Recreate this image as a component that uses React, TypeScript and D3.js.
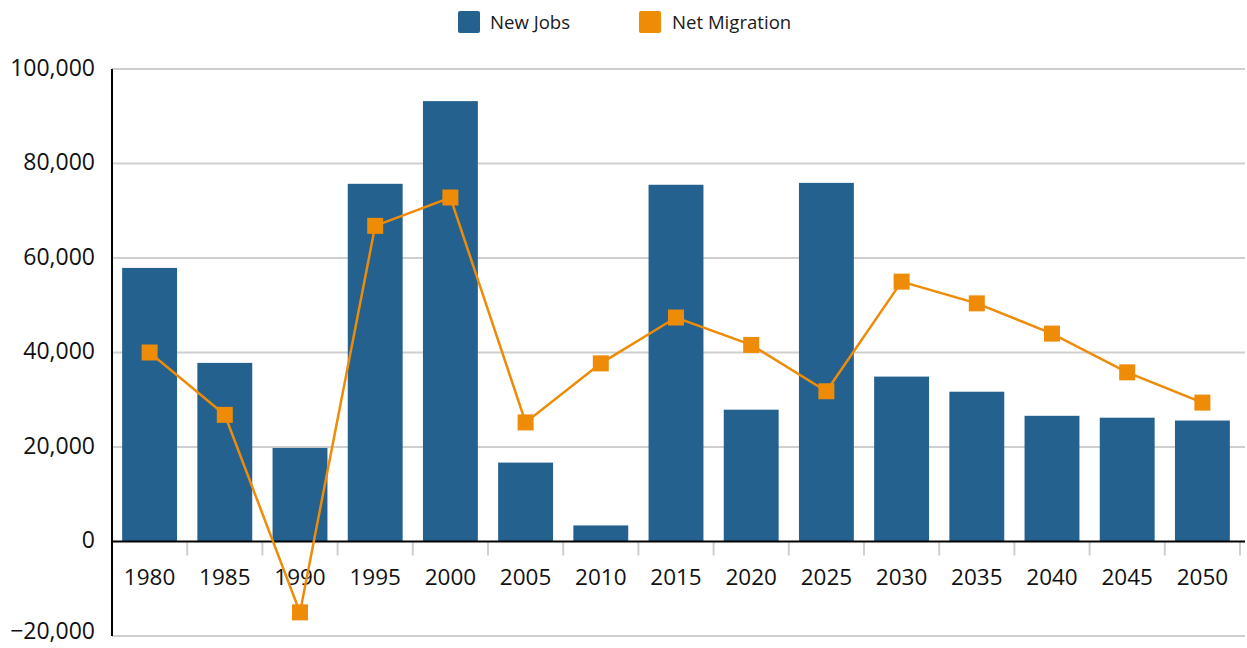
import React from 'react';
import * as d3 from 'd3';

const years = ['1980', '1985', '1990', '1995', '2000', '2005', '2010', '2015', '2020', '2025', '2030', '2035', '2040', '2045', '2050'];
const newJobs = [57900, 37800, 19800, 75700, 93200, 16700, 3400, 75500, 27900, 75900, 34900, 31700, 26600, 26200, 25600];
const netMigration = [40000, 26800, -15000, 66800, 72800, 25200, 37700, 47400, 41600, 31800, 55000, 50400, 44000, 35800, 29400];
const yTicks = [-20000, 0, 20000, 40000, 60000, 80000, 100000];

const BLUE = '#24618f';
const ORANGE = '#ee8b07';
const FONT = '"Open Sans", sans-serif';

const App: React.FC = () => {
  const width = 1247;
  const height = 648;
  const left = 112;
  const right = 1240;

  const x = d3
    .scaleBand<string>()
    .domain(years)
    .range([left, right])
    .paddingInner(0.27)
    .paddingOuter(0.135);

  const y = d3.scaleLinear().domain([-20000, 100000]).range([636, 69]);
  const fmt = d3.format(',');
  const step = x.step();
  const cx = (d: string) => (x(d) ?? 0) + x.bandwidth() / 2;

  const line = d3
    .line<number>()
    .x((_, i) => cx(years[i]))
    .y((d) => y(d));

  return (
    <svg
      width={width}
      height={height}
      style={{ position: 'absolute', left: 0, top: 0, fontFamily: FONT }}
    >
      <rect width={width} height={height} fill="#fff" />

      {/* legend */}
      <g>
        <rect x={458} y={11} width={22} height={22} rx={2} fill={BLUE} />
        <text x={490} y={22} dy="0.35em" fontSize={18.6} fill="#1a1a1a">New Jobs</text>
        <rect x={639} y={11} width={22} height={22} rx={2} fill={ORANGE} />
        <text x={672} y={22} dy="0.35em" fontSize={18.6} fill="#1a1a1a">Net Migration</text>
      </g>

      {/* grid */}
      {yTicks.map((t) => (
        <g key={t}>
          {t !== 0 && (
            <line x1={left} x2={1245} y1={y(t)} y2={y(t)} stroke="#cfcfcf" strokeWidth={2} />
          )}
          <text
            x={95}
            y={y(t)}
            dy={t === -20000 ? '0.12em' : '0.3em'}
            textAnchor="end"
            fontSize={23}
            fill="#111"
          >
            {fmt(t)}
          </text>
        </g>
      ))}

      {/* bars */}
      {years.map((yr, i) => (
        <rect
          key={yr}
          x={x(yr)}
          width={x.bandwidth()}
          y={y(Math.max(0, newJobs[i]))}
          height={Math.abs(y(newJobs[i]) - y(0))}
          fill={BLUE}
        />
      ))}

      {/* category ticks */}
      {years.map((yr, i) => (
        <line
          key={'t' + yr}
          x1={left + step * (i + 1)}
          x2={left + step * (i + 1)}
          y1={y(0)}
          y2={y(0) + 14}
          stroke="#cfcfcf"
          strokeWidth={2}
        />
      ))}

      {/* zero axis and y axis */}
      <line x1={left} x2={1245} y1={y(0)} y2={y(0)} stroke="#000" strokeWidth={2} />
      <line x1={left} x2={left} y1={y(100000)} y2={y(-20000)} stroke="#000" strokeWidth={2} />

      {/* x labels */}
      {years.map((yr) => (
        <text key={'l' + yr} x={cx(yr)} y={577} dy="0.35em" textAnchor="middle" fontSize={22.5} fill="#111">
          {yr}
        </text>
      ))}

      {/* net migration line */}
      <path d={line(netMigration) ?? ''} fill="none" stroke={ORANGE} strokeWidth={2.5} />
      {years.map((yr, i) => (
        <rect
          key={'m' + yr}
          x={cx(yr) - 8}
          y={y(netMigration[i]) - 8}
          width={16}
          height={16}
          fill={ORANGE}
        />
      ))}
    </svg>
  );
};

export default App;
